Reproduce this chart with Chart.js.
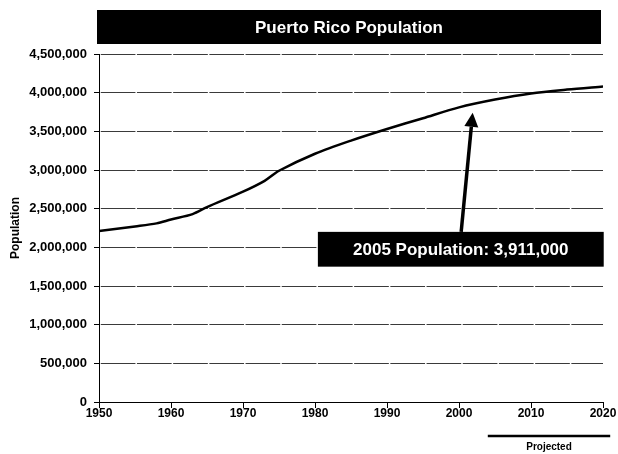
<!DOCTYPE html>
<html>
<head>
    <title>Puerto Rico Population</title>
    <script src="https://cdn.jsdelivr.net/npm/chart.js"></script>
    <style>
        html, body { margin: 0; padding: 0; background: #fff; }
    </style>
</head>
<body>
<canvas id="myChart" width="618" height="454"></canvas>
<script>
// census counts to 2000, estimate for 2005, projections after
const years = [1950, 1955, 1958, 1960, 1963, 1965, 1970, 1973, 1975, 1980, 1985, 1990, 1995, 2000, 2005, 2010, 2015, 2020];
const population = [2210000, 2270000, 2310000, 2360000, 2430000, 2520000, 2720000, 2860000, 2990000, 3210000, 3380000, 3530000, 3670000, 3810000, 3911000, 3990000, 4040000, 4080000];
const yearTicks = [1950, 1960, 1970, 1980, 1990, 2000, 2010, 2020];
const popTicks = [0, 500000, 1000000, 1500000, 2000000, 2500000, 3000000, 3500000, 4000000, 4500000];

const chartTitle = 'Puerto Rico Population';
const calloutYear = 2005;
const projectedRange = [2004, 2021];
const projectedLabel = 'Projected';

const sans = "'Liberation Sans', Arial, sans-serif";
const fmt = v => v.toLocaleString('en-US');

const decorations = {
    id: 'decorations',
    afterDraw(chart) {
        const ctx = chart.ctx;
        const area = chart.chartArea;
        const xs = chart.scales.x;
        const ys = chart.scales.y;
        ctx.save();

        // title bar
        ctx.fillStyle = '#000';
        ctx.fillRect(area.left - 2, 10, area.right - area.left, 34);
        ctx.fillStyle = '#fff';
        ctx.font = 'bold 17px ' + sans;
        ctx.textAlign = 'center';
        ctx.textBaseline = 'middle';
        ctx.fillText(chartTitle, (area.left + area.right) / 2 - 2, 28);

        // callout for the 2005 figure
        const idx = years.indexOf(calloutYear);
        const calloutText = calloutYear + ' Population: ' + fmt(population[idx]);
        const bx1 = xs.getPixelForValue(1980.4), bx2 = xs.getPixelForValue(2020.1);
        const by1 = ys.getPixelForValue(2200000), by2 = ys.getPixelForValue(1750000);

        // arrow
        const tx = xs.getPixelForValue(2001.9), ty = ys.getPixelForValue(3740000);
        const sx = xs.getPixelForValue(2000.3), sy = by1;
        const ang = Math.atan2(ty - sy, tx - sx);
        const headLen = 14, headW = 7;
        const hx = tx - headLen * Math.cos(ang), hy = ty - headLen * Math.sin(ang);
        ctx.strokeStyle = '#000';
        ctx.lineWidth = 3.5;
        ctx.beginPath();
        ctx.moveTo(sx, sy);
        ctx.lineTo(hx, hy);
        ctx.stroke();
        ctx.beginPath();
        ctx.moveTo(tx, ty);
        ctx.lineTo(hx + headW * Math.sin(ang), hy - headW * Math.cos(ang));
        ctx.lineTo(hx - headW * Math.sin(ang), hy + headW * Math.cos(ang));
        ctx.closePath();
        ctx.fillStyle = '#000';
        ctx.fill();

        ctx.fillRect(bx1, by1, bx2 - bx1, by2 - by1);
        ctx.fillStyle = '#fff';
        ctx.font = 'bold 17px ' + sans;
        ctx.fillText(calloutText, (bx1 + bx2) / 2, (by1 + by2) / 2 + 1);

        // projected span under the x axis
        const px1 = xs.getPixelForValue(projectedRange[0]);
        const px2 = xs.getPixelForValue(projectedRange[1]);
        ctx.lineWidth = 2.5;
        ctx.beginPath();
        ctx.moveTo(px1, 436);
        ctx.lineTo(px2, 436);
        ctx.stroke();
        ctx.fillStyle = '#000';
        ctx.font = 'bold 10px ' + sans;
        ctx.fillText(projectedLabel, (px1 + px2) / 2, 447);

        ctx.restore();
    }
};

const ctx = document.getElementById('myChart').getContext('2d');
const myChart = new Chart(ctx, {
    type: 'line',
    data: {
        datasets: [{
            label: 'Population',
            data: years.map((yr, i) => ({ x: yr, y: population[i] })),
            borderColor: '#000',
            borderWidth: 2.5,
            pointRadius: 0,
            tension: 0.3,
            fill: false
        }]
    },
    options: {
        responsive: false,
        animation: false,
        layout: { padding: { left: 0, top: 54, right: 15, bottom: 0 } },
        plugins: {
            legend: { display: false },
            tooltip: { enabled: false }
        },
        scales: {
            x: {
                type: 'linear',
                min: yearTicks[0],
                max: yearTicks[yearTicks.length - 1],
                afterBuildTicks: s => { s.ticks = yearTicks.map(v => ({ value: v })); },
                afterFit: s => { s.height = 52; },
                grid: { drawOnChartArea: false, drawTicks: true, tickLength: 6, tickColor: '#000' },
                border: { color: '#000', width: 1 },
                ticks: {
                    color: '#000',
                    padding: -2,
                    maxRotation: 0,
                    autoSkip: false,
                    font: { family: sans, size: 12, weight: 'bold' },
                    callback: v => String(v)
                }
            },
            y: {
                min: popTicks[0],
                max: popTicks[popTicks.length - 1],
                afterBuildTicks: s => { s.ticks = popTicks.map(v => ({ value: v })); },
                afterFit: s => { s.width = 99; },
                grid: { color: '#3a3a3a', lineWidth: 1, tickLength: 5, tickColor: '#000' },
                border: { color: '#000', width: 1, dash: [34.7, 1.5], dashOffset: -0.75 },
                title: {
                    display: true,
                    text: 'Population',
                    color: '#000',
                    padding: { top: 8, bottom: 0 },
                    font: { family: sans, size: 12, weight: 'bold' }
                },
                ticks: {
                    color: '#000',
                    padding: 7,
                    autoSkip: false,
                    font: { family: sans, size: 13, weight: 'bold' },
                    callback: v => fmt(v)
                }
            }
        }
    },
    plugins: [decorations]
});
</script>
</body>
</html>
